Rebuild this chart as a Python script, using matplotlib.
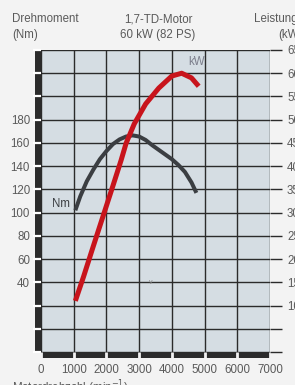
import matplotlib
matplotlib.use('Agg')
import matplotlib.pyplot as plt
from matplotlib.transforms import blended_transform_factory

# ---- data ----
rpm_torque = [1050, 1200, 1400, 1600, 1800, 2000, 2200, 2400, 2600, 2800,
              3000, 3200, 3400, 3600, 3800, 4000, 4200, 4400, 4600, 4750]
torque_nm = [102, 114, 127, 137, 146, 153, 159, 163, 165.5, 166.5,
             165.5, 162.5, 158, 154, 150, 146, 141, 135, 126, 117]

rpm_power = [1050, 1300, 1600, 1900, 2200, 2450, 2600, 2850, 3200, 3600,
             4000, 4300, 4600, 4820]
power_kw = [11, 16.2, 22.8, 29.3, 35.8, 41.3, 44.9, 49.1, 53.4, 56.8,
            59.4, 60, 59, 57.2]

nm_ticks = list(range(-20, 241, 20))
nm_labels = [str(v) if 40 <= v <= 180 else '' for v in nm_ticks]
kw_ticks = list(range(0, 66, 5))
kw_labels = [str(v) if v >= 10 else '' for v in kw_ticks]
rpm_ticks = list(range(0, 7001, 1000))
rpm_labels = [str(v) for v in rpm_ticks]

# ---- style ----
W, H = 295, 385
DPI = 100
PT = 72.0 / DPI
FONT = 'Liberation Sans'
FS = 8.3
TXT = '#5a5a5a'
GRID = '#2b2b2b'
BG = '#f3f3f3'
PLOT_BG = '#d5dde3'
RED = '#c8141c'
DARK = '#3b3e42'

plt.rcParams['font.family'] = [FONT, 'DejaVu Sans']

fig = plt.figure(figsize=(W / DPI, H / DPI), dpi=DPI, facecolor=BG)
L, R, T, B = 41, 270, 50, 352
ax = fig.add_axes([L / W, 1 - B / H, (R - L) / W, (B - T) / H])
ax.set_xlim(0, 7000)
ax.set_ylim(-20, 240)
ax.set_facecolor(PLOT_BG)
for s in ax.spines.values():
    s.set_visible(False)

ax.set_xticks(rpm_ticks)
ax.set_xticklabels(rpm_labels)
ax.set_yticks(nm_ticks)
ax.set_yticklabels(nm_labels)
ax.grid(True, color=GRID, lw=1.0)
ax.tick_params(axis='y', direction='out', length=8 * PT, width=1.6,
               color='white', pad=3 * PT, labelsize=FS, labelcolor=TXT)
ax.tick_params(axis='x', direction='out', length=7 * PT, width=2.0,
               color=BG, pad=5 * PT, labelsize=FS, labelcolor=TXT)
ax.yaxis.set_zorder(3)
ax.xaxis.set_zorder(3)

# thick axis bars (drawn below the white tick marks)
aw = R - L
ah = B - T
tl = blended_transform_factory(ax.transAxes, ax.transData)
ax.plot([-3 / aw, -3 / aw], [-20, 240], transform=tl, color=GRID,
        lw=6 * PT, solid_capstyle='butt', clip_on=False, zorder=2.5)
tb = blended_transform_factory(ax.transData, ax.transAxes)
ax.plot([0, 7000], [-3 / ah, -3 / ah], transform=tb, color=GRID,
        lw=6 * PT, solid_capstyle='butt', clip_on=False, zorder=2.5)

# torque curve
ax.plot(rpm_torque, torque_nm, color=DARK, lw=4 * PT, zorder=4,
        solid_capstyle='butt')
ax.text(900, 107, 'Nm', ha='right', va='center', fontsize=FS,
        color=DARK, zorder=5)
ax.text(4740, 230, 'kW', ha='center', va='center', fontsize=FS,
        color='#7d7f8c', zorder=5)
ax.text(3350, 40, 'v', ha='center', va='center', fontsize=5,
        color='#888888', zorder=5)

# power axis
ax2 = ax.twinx()
ax2.set_ylim(0, 65)
for s in ax2.spines.values():
    s.set_visible(False)
ax2.set_yticks(kw_ticks)
ax2.set_yticklabels(kw_labels)
ax2.tick_params(axis='y', direction='out', length=12 * PT, width=1.0,
                color=GRID, pad=5 * PT, labelsize=FS, labelcolor=TXT)
ax2.plot(rpm_power, power_kw, color=RED, lw=5 * PT, zorder=4,
         solid_capstyle='butt')


def ftext(x, y, s, **kw):
    fig.text(x / W, 1 - y / H, s, fontsize=FS, color=TXT, va='center', **kw)


ftext(12, 19, 'Drehmoment', ha='left')
ftext(12, 35, '(Nm)', ha='left')
ftext(158, 20, '1,7-TD-Motor', ha='center')
ftext(158, 35, '60 kW (82 PS)', ha='center')
ftext(254, 19, 'Leistung', ha='left')
ftext(278, 35, '(kW)', ha='left')
fig.text(12 / W, 1 - 378 / H, 'Motordrehzahl (min$^{-1}$)', fontsize=FS,
         color=TXT, ha='left', va='top')

fig.savefig('out.png', dpi=DPI, facecolor=BG)
